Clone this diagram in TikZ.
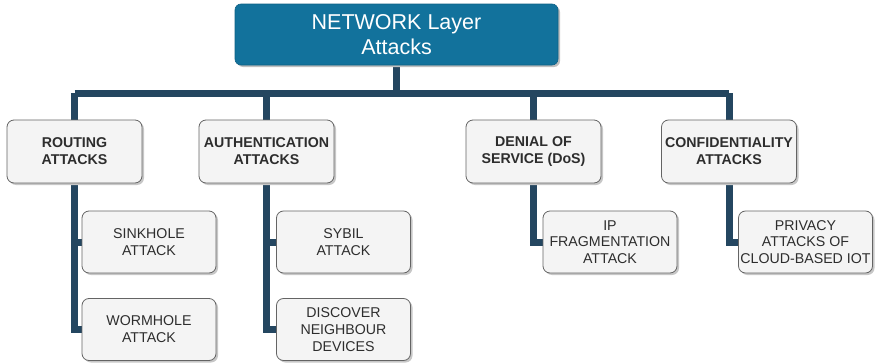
\documentclass[tikz,border=0pt]{standalone}
\usepackage{fontspec}
\setmainfont{Liberation Sans}
\usetikzlibrary{shadows,backgrounds}
\definecolor{headblue}{RGB}{18,114,156}
\definecolor{linknavy}{RGB}{36,70,96}
\definecolor{boxfill}{RGB}{244,244,244}
\definecolor{boxline}{RGB}{100,100,100}
\definecolor{boxtext}{RGB}{45,45,45}
\tikzset{
  headbox/.style={draw=headblue!85!black, line width=0.6pt, fill=headblue, rounded corners=6pt,
    minimum width=323pt, minimum height=61pt, text=white, align=center,
    font=\fontsize{21.5}{25}\selectfont,
    drop shadow={shadow xshift=2pt, shadow yshift=-2pt, fill=black!25, opacity=1}},
  catbox/.style={draw=boxline, line width=0.8pt, fill=boxfill, rounded corners=7pt,
    minimum width=135pt, minimum height=63pt, text=boxtext, align=center, inner xsep=1pt,
    font=\fontsize{14.2}{16.8}\selectfont\bfseries,
    drop shadow={shadow xshift=2pt, shadow yshift=-2pt, fill=black!22, opacity=1}},
  leafbox/.style={catbox, minimum width=134pt, minimum height=62pt,
    font=\fontsize{14.2}{16.8}\selectfont},
  link/.style={draw=linknavy, line width=7pt}
}
\begin{document}
\begin{tikzpicture}[x=1pt,y=-1pt]
\useasboundingbox (0,0) rectangle (876,364);

% root
\node[headbox] (root) at (396.5,34.5) {NETWORK Layer\\Attacks};

% attack categories
\node[catbox] (routing) at (74.5,151.5) {ROUTING\\ATTACKS};
\node[catbox] (auth)    at (266.5,151.5) {AUTHENTICATION\\ATTACKS};
\node[catbox] (dos)     at (533.5,151.5) {DENIAL OF\\SERVICE (DoS)};
\node[catbox] (conf)    at (729,151.5) {CONFIDENTIALITY\\ATTACKS};

% individual attacks
\node[leafbox] (sink)     at (149,242)    {SINKHOLE\\ATTACK};
\node[leafbox] (worm)     at (149,329.5)  {WORMHOLE\\ATTACK};
\node[leafbox] (sybil)    at (343.5,242)  {SYBIL\\ATTACK};
\node[leafbox] (discover) at (343.5,329.5){DISCOVER\\NEIGHBOUR\\DEVICES};
\node[leafbox] (ipfrag)   at (610,242)    {IP\\FRAGMENTATION\\ATTACK};
\node[leafbox] (privacy)  at (805.5,242)  {PRIVACY\\ATTACKS OF\\CLOUD-BASED IOT};

\coordinate (bus) at (396.5,93);

\begin{scope}[on background layer]
  % root to categories
  \draw[link] (root.south) -- (bus);
  \draw[link] (bus -| routing.north) -- (bus -| conf.north);
  \foreach \c in {routing,auth,dos,conf}
    \draw[link] (bus -| \c.north) -- (\c.north);
  % categories to attacks
  \draw[link] (routing.south) |- (worm.west);
  \draw[link] (routing.south) |- (sink.west);
  \draw[link] (auth.south) |- (discover.west);
  \draw[link] (auth.south) |- (sybil.west);
  \draw[link] (dos.south) |- (ipfrag.west);
  \draw[link] (conf.south) |- (privacy.west);
\end{scope}
\end{tikzpicture}
\end{document}
